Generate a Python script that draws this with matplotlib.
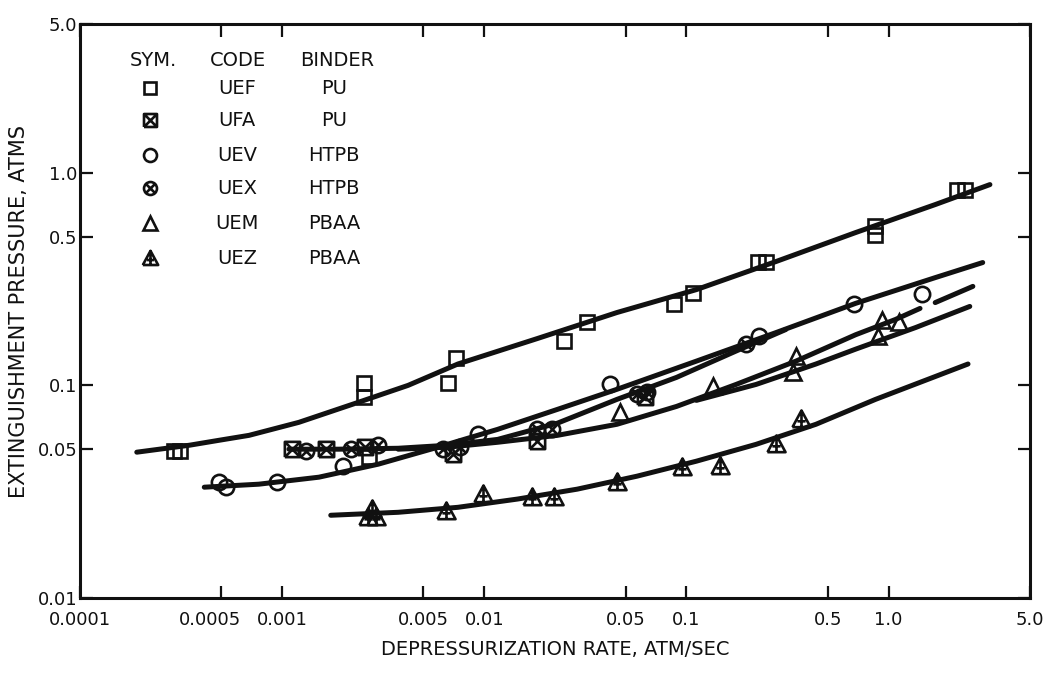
import numpy as np
import matplotlib
matplotlib.use("Agg")
import matplotlib.pyplot as plt
import matplotlib.transforms as mtransforms
from matplotlib.path import Path

# fitted curves (depressurization rate, extinguishment pressure)
pu_rate = [1.91e-4, 3.48e-4, 4.89e-4, 6.86e-4, 1.21e-3, 2.38e-3, 4.20e-3, 7.40e-3,
           0.0183, 0.0453, 0.112, 0.277, 0.687, 1.70, 3.17]
pu_press = [0.0485, 0.0523, 0.0552, 0.0582, 0.0670, 0.0832, 0.100, 0.126,
            0.166, 0.220, 0.282, 0.382, 0.523, 0.708, 0.879]

uev_rate = [4.12e-4, 7.67e-4, 1.52e-3, 2.99e-3, 5.90e-3, 0.01164, 0.0230, 0.0453,
            0.112, 0.277, 0.687, 1.70, 2.92]
uev_press = [0.0332, 0.0343, 0.0370, 0.0426, 0.0512, 0.0621, 0.0771, 0.0958,
             0.130, 0.177, 0.243, 0.321, 0.378]

uex_rate = [1.08e-3, 1.90e-3, 3.75e-3, 6.61e-3, 0.01164, 0.0230, 0.0453, 0.0893, 0.176, 0.310]
uex_press = [0.0501, 0.0501, 0.0506, 0.0523, 0.0557, 0.0664, 0.0859, 0.109, 0.145, 0.183]

uem_rate = [3.75e-3, 6.61e-3, 0.01164, 0.0230, 0.0453, 0.0893, 0.176, 0.348, 0.687, 1.08, 1.43,
            1.70, 2.61]
uem_press = [0.0501, 0.0512, 0.0540, 0.0582, 0.0656, 0.0796, 0.101, 0.130, 0.173, 0.204, 0.230,
             0.245, 0.292]

uem2_rate = [0.112, 0.221, 0.437, 0.687, 1.36, 2.52]
uem2_press = [0.0850, 0.101, 0.126, 0.148, 0.187, 0.235]

uez_rate = [1.74e-3, 3.75e-3, 7.40e-3, 0.0146, 0.0288, 0.0569, 0.112, 0.221, 0.437, 0.861, 1.70, 2.47]
uez_press = [0.0245, 0.0253, 0.0267, 0.0292, 0.0325, 0.0374, 0.0440, 0.0528, 0.0656, 0.0859,
             0.110, 0.126]

# measured points
uef_x = [2.93e-4, 3.14e-4, 2.55e-3, 2.55e-3, 2.68e-3, 6.61e-3, 7.23e-3, 0.0248, 0.0323,
         0.0865, 0.108, 0.226, 0.248, 0.861, 0.861, 2.18, 2.39]
uef_y = [0.049, 0.049, 0.103, 0.088, 0.046, 0.103, 0.134, 0.161, 0.198,
         0.240, 0.273, 0.382, 0.382, 0.512, 0.564, 0.832, 0.832]

ufa_x = [1.12e-3, 1.64e-3, 2.58e-3, 7.00e-3, 0.0183, 0.0622]
ufa_y = [0.0501, 0.0501, 0.0512, 0.0474, 0.0546, 0.0879]

uev_x = [4.89e-4, 5.28e-4, 9.42e-4, 2.01e-3, 9.29e-3, 0.0419, 0.229, 0.671, 1.47]
uev_y = [0.0350, 0.0332, 0.0350, 0.0417, 0.0589, 0.101, 0.170, 0.240, 0.270]

uex_x = [1.31e-3, 2.20e-3, 2.99e-3, 6.24e-3, 7.57e-3, 0.0183, 0.0217, 0.0569, 0.0637, 0.198]
uex_y = [0.0490, 0.0501, 0.0523, 0.0501, 0.0512, 0.0621, 0.0621, 0.0908, 0.0927, 0.156]

uem_x = [0.0469, 0.136, 0.348, 0.337, 0.93, 1.12, 0.891]
uem_y = [0.0747, 0.0989, 0.137, 0.115, 0.204, 0.198, 0.170]

uez_x = [2.67e-3, 2.92e-3, 2.79e-3, 6.46e-3, 9.82e-3, 0.0173, 0.0222, 0.0453, 0.0946,
         0.146, 0.277, 0.368]
uez_y = [0.0240, 0.0240, 0.0262, 0.0256, 0.0308, 0.0298, 0.0298, 0.0350, 0.0412,
         0.0417, 0.0528, 0.0692]

x_ticks = [1e-4, 5e-4, 1e-3, 5e-3, 1e-2, 5e-2, 0.1, 0.5, 1.0, 5.0]
x_labels = ['0.0001', '0.0005', '0.001', '0.005', '0.01', '0.05', '0.1', '0.5', '1.0', '5.0']
y_ticks = [0.01, 0.05, 0.1, 0.5, 1.0, 5.0]
y_labels = ['0.01', '0.05', '0.1', '0.5', '1.0', '5.0']

legend_sym = ['uef', 'ufa', 'uev', 'uex', 'uem', 'uez']
legend_code = ['UEF', 'UFA', 'UEV', 'UEX', 'UEM', 'UEZ']
legend_binder = ['PU', 'PU', 'HTPB', 'HTPB', 'PBAA', 'PBAA']

M, L = Path.MOVETO, Path.LINETO

# square with a cross inside
sq_cross = Path([(-1, -1), (1, -1), (1, 1), (-1, 1), (-1, -1),
                 (-1, -1), (1, 1), (-1, 1), (1, -1)],
                [M, L, L, L, L, M, L, M, L])
# circle with a cross inside
circ_cross = Path.make_compound_path(
    Path.unit_circle(),
    Path([(-0.7, -0.7), (0.7, 0.7), (-0.7, 0.7), (0.7, -0.7)], [M, L, M, L]))
# triangle with inner strokes
tri_mark = Path([(-1, -0.85), (1, -0.85), (0, 1), (-1, -0.85),
                 (0, 1), (0, -0.85), (-0.45, -0.2), (0.45, -0.2)],
                [M, L, L, L, M, L, M, L])

markers = {
    'uef': dict(marker='s', ms=10),
    'ufa': dict(marker=sq_cross, ms=11),
    'uev': dict(marker='o', ms=11),
    'uex': dict(marker=circ_cross, ms=11),
    'uem': dict(marker='^', ms=12),
    'uez': dict(marker=tri_mark, ms=13),
}

ink = '#111111'
plt.rcParams['font.family'] = ['DejaVu Sans']

fig = plt.figure(figsize=(10.62, 6.73), dpi=100)
ax = fig.add_axes([0.0753, 0.1114, 0.8945, 0.8529])
ax.set_xscale('log')
ax.set_yscale('log')
ax.set_xlim(1e-4, 5.0)
ax.set_ylim(0.01, 5.0)

line_kw = dict(color=ink, lw=3.6, solid_capstyle='round', zorder=2)
ax.plot(pu_rate, pu_press, **line_kw)
ax.plot(uev_rate, uev_press, **line_kw)
ax.plot(uex_rate, uex_press, **line_kw)
# the UEM fit is broken just before its last segment
ax.plot(uem_rate[:-2], uem_press[:-2], **line_kw)
ax.plot(uem_rate[-2:], uem_press[-2:], **line_kw)
ax.plot(uem2_rate, uem2_press, **line_kw)
ax.plot(uez_rate, uez_press, **line_kw)

point_sets = {
    'uef': (uef_x, uef_y), 'ufa': (ufa_x, ufa_y), 'uev': (uev_x, uev_y),
    'uex': (uex_x, uex_y), 'uem': (uem_x, uem_y), 'uez': (uez_x, uez_y),
}
for key, (xs, ys) in point_sets.items():
    m = markers[key]
    ax.plot(xs, ys, ls='none', marker=m['marker'], ms=m['ms'],
            mfc='none', mec=ink, mew=1.9, zorder=3)

# symbol table in the upper left corner
def to_ax(px, py):
    return (px - 80) / 950.0, (598 - py) / 574.0

txt_kw = dict(transform=ax.transAxes, ha='center', va='center', fontsize=14, color=ink)
for px, head in [(153, 'SYM.'), (238, 'CODE'), (337, 'BINDER')]:
    ax.text(*to_ax(px, 60), head, **txt_kw)
row_y = [88, 120, 155, 188, 223, 258]
for i, py in enumerate(row_y):
    m = markers[legend_sym[i]]
    ax.plot(*to_ax(150, py), transform=ax.transAxes, ls='none', marker=m['marker'],
            ms=m['ms'] * 0.85, mfc='none', mec=ink, mew=1.9, clip_on=False)
    ax.text(*to_ax(237, py), legend_code[i], **txt_kw)
    ax.text(*to_ax(334, py), legend_binder[i], **txt_kw)

ax.set_xticks(x_ticks)
ax.set_xticklabels(x_labels)
ax.set_yticks(y_ticks)
ax.set_yticklabels(y_labels)
ax.minorticks_off()
ax.tick_params(which='major', direction='in', top=True, right=True, length=9, width=1.6,
               labelsize=13, colors=ink)
ax.tick_params(axis='x', pad=9)
ax.tick_params(axis='y', pad=2)

# nudge the crowded 0.0005 label away from 0.001
shift = mtransforms.ScaledTranslation(-8 / 72, 0, fig.dpi_scale_trans)
lbl = ax.get_xticklabels()[1]
lbl.set_transform(lbl.get_transform() + shift)

for s in ax.spines.values():
    s.set_linewidth(2.2)
    s.set_color(ink)

ax.set_xlabel('DEPRESSURIZATION RATE, ATM/SEC', fontsize=14, color=ink, labelpad=8)
ax.set_ylabel('EXTINGUISHMENT PRESSURE, ATMS', fontsize=15, color=ink, labelpad=6)

fig.savefig('out.png', dpi=100, facecolor='white')
